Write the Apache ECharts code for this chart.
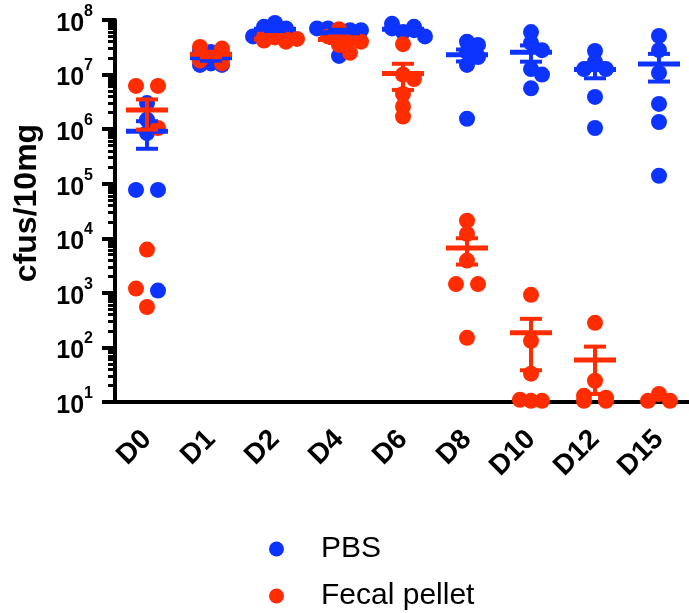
<!DOCTYPE html>
<html>
<head>
<meta charset="utf-8">
<script src="https://cdn.jsdelivr.net/npm/echarts@6/dist/echarts.min.js"></script>
<style>
  html, body { margin: 0; padding: 0; background: #fff; }
  #chart { width: 689px; height: 613px; }
</style>
</head>
<body>
<div id="chart"></div>
<script>
const categories = ["D0", "D1", "D2", "D4", "D6", "D8", "D10", "D12", "D15"];

// cfus/10mg per animal
const pbsValues = [
  [3.0e6, 1.5e6, 8.5e5, 7.7e4, 7.7e4, 1.1e3],
  [2.8e7, 2.6e7, 2.2e7, 1.6e7, 1.5e7, 1.5e7],
  [8.8e7, 7.5e7, 7.0e7, 6.5e7, 6.0e7, 5.0e7],
  [7.0e7, 7.0e7, 6.5e7, 6.5e7, 6.0e7, 2.2e7],
  [8.5e7, 7.5e7, 7.0e7, 6.5e7, 6.0e7, 5.0e7],
  [4.0e7, 3.5e7, 2.6e7, 2.1e7, 1.5e7, 1.55e6],
  [6.0e7, 3.8e7, 2.8e7, 1.26e7, 1.0e7, 5.6e6],
  [2.7e7, 1.7e7, 1.26e7, 1.26e7, 3.9e6, 1.05e6],
  [5.1e7, 2.8e7, 1.07e7, 2.9e6, 1.35e6, 1.4e5],
];
const fecalValues = [
  [6.2e6, 6.2e6, 1.05e6, 6.2e3, 1.2e3, 550],
  [3.2e7, 3.0e7, 2.5e7, 2.0e7, 1.8e7, 1.6e7],
  [5.0e7, 4.8e7, 4.5e7, 4.5e7, 4.2e7, 4.0e7],
  [6.8e7, 5.0e7, 4.5e7, 4.0e7, 3.5e7, 2.5e7],
  [3.6e7, 1.0e7, 8.3e6, 4.4e6, 2.6e6, 1.7e6],
  [2.1e4, 1.2e4, 3.9e3, 1.45e3, 1.45e3, 150],
  [920, 132, 33, 11, 10.5, 10.5],
  [282, 24.5, 13, 12, 10.5, 10.5],
  [14, 10.5, 10.5],
];
const seriesNames = ["PBS", "Fecal pellet"];
const yTickValues = [1e1, 1e2, 1e3, 1e4, 1e5, 1e6, 1e7, 1e8];

const colors = ["#0d33ff", "#ff2c00"];
const groups = [pbsValues, fecalValues];
const FONT = "'Liberation Sans', Arial, sans-serif";

// minor log ticks 2..9 in every decade
const minorTicks = [];
for (let e = 1; e < 8; e++) {
  for (let k = 2; k <= 9; k++) minorTicks.push(k * Math.pow(10, e));
}

const mean = (a) => a.reduce((s, v) => s + v, 0) / a.length;
const sem = (a) => {
  const m = mean(a);
  const sd = Math.sqrt(a.reduce((s, v) => s + (v - m) * (v - m), 0) / (a.length - 1));
  return sd / Math.sqrt(a.length);
};

// spread the dots of one day sideways, allowing some overlap like the original
const STEP = 11;
const MIN_DIST = 10;
const TRY = [0, 1, -1, 2, -2];
function layoutDay(ci, api) {
  const pts = [];
  groups.forEach((g, s) => g[ci].forEach((v) => pts.push({ s, y: api.coord([ci, v])[1] })));
  const cx = api.coord([ci, 1e4])[0];
  pts.sort((a, b) => a.y - b.y);
  const placed = [];
  let i = 0;
  while (i < pts.length) {
    let j = i + 1;
    while (j < pts.length && pts[j].y - pts[i].y < 3) j++;
    const n = j - i;
    if (n === 1) {
      const p = pts[i];
      let k = 0;
      for (const o of TRY) {
        if (placed.every((q) => Math.hypot(o * STEP - q.dx, p.y - q.y) >= MIN_DIST)) { k = o; break; }
      }
      p.dx = k * STEP;
      placed.push(p);
    } else {
      const offs = [];
      if (n % 2) {
        for (let o = -(n - 1) / 2; o <= (n - 1) / 2; o++) offs.push(o);
      } else {
        for (let o = -n / 2; o <= n / 2; o++) if (o !== 0) offs.push(o);
      }
      for (let k = 0; k < n; k++) {
        pts[i + k].dx = offs[k] * STEP;
        placed.push(pts[i + k]);
      }
    }
    i = j;
  }
  return pts.map((p) => ({ s: p.s, x: cx + p.dx, y: p.y }));
}

function dotSeries(s) {
  return {
    name: seriesNames[s],
    type: "custom",
    itemStyle: { color: colors[s] },
    data: categories.map((c, i) => [i, mean(groups[s][i])]),
    renderItem: (params, api) => {
      const ci = api.value(0);
      const children = layoutDay(ci, api)
        .filter((p) => p.s === s)
        .map((p) => ({
          type: "circle",
          shape: { cx: p.x, cy: p.y, r: 8 },
          style: { fill: colors[s] },
        }));
      return { type: "group", children };
    },
  };
}

function statSeries(s) {
  return {
    type: "custom",
    silent: true,
    data: categories.map((c, i) => [i, mean(groups[s][i])]),
    renderItem: (params, api) => {
      const ci = api.value(0);
      const vals = groups[s][ci];
      const m = mean(vals);
      // the reference shows no bar when the mean sits on the detection limit
      if (m < 20) return { type: "group", children: [] };
      const e = sem(vals);
      const x = api.coord([ci, m])[0];
      const yM = api.coord([ci, m])[1];
      const yHi = api.coord([ci, m + e])[1];
      const yLo = api.coord([ci, Math.max(m - e, 10)])[1];
      const line = (x1, y1, x2, y2, w) => ({
        type: "line",
        shape: { x1, y1, x2, y2 },
        style: { stroke: colors[s], lineWidth: w },
      });
      return {
        type: "group",
        children: [
          line(x, yLo, x, yHi, 4),
          line(x - 11, yHi, x + 11, yHi, 4),
          line(x - 11, yLo, x + 11, yLo, 4),
          line(x - 21, yM, x + 21, yM, 5),
        ],
      };
    },
  };
}

const chart = echarts.init(document.getElementById("chart"));
chart.setOption({
  animation: false,
  backgroundColor: "#fff",
  textStyle: { fontFamily: FONT },
  grid: { left: 115, right: -2, top: 20, bottom: 211, containLabel: false, outerBoundsMode: "none" },
  legend: {
    orient: "vertical",
    left: 269,
    top: 534,
    height: 90,
    padding: 0,
    icon: "circle",
    itemWidth: 15,
    itemHeight: 15,
    itemGap: 17,
    selectedMode: false,
    data: seriesNames,
    textStyle: { fontSize: 30, lineHeight: 30, color: "#000", fontFamily: FONT, padding: [0, 0, 0, 32] },
  },
  xAxis: {
    type: "category",
    data: categories,
    axisLine: { lineStyle: { color: "#000", width: 4 } },
    axisTick: { alignWithLabel: true, length: 14, lineStyle: { color: "#000", width: 4 } },
    axisLabel: {
      rotate: 45,
      margin: 33,
      fontSize: 28,
      fontWeight: "bold",
      color: "#000",
      fontFamily: FONT,
    },
  },
  yAxis: [
    {
      type: "log",
      min: 10,
      max: 1e8,
      name: "cfus/10mg",
      nameLocation: "middle",
      nameGap: 72,
      nameRotate: 90,
      nameTextStyle: { fontSize: 32, fontWeight: "bold", color: "#000", fontFamily: FONT, padding: [0, 0, 0, 16] },
      splitLine: { show: false },
      axisLine: { show: true, lineStyle: { color: "#000", width: 4 } },
      axisTick: { show: true, length: 13, customValues: yTickValues, lineStyle: { color: "#000", width: 4 } },
      axisLabel: {
        customValues: yTickValues,
        margin: 22,
        color: "#000",
        formatter: (v) => "{b|10}{s|" + Math.round(Math.log10(v)) + "}",
        rich: {
          b: { fontSize: 25, fontWeight: "bold", color: "#000", fontFamily: FONT, padding: [8, 0, 0, 0] },
          s: { fontSize: 16, fontWeight: "bold", color: "#000", fontFamily: FONT, verticalAlign: "top" },
        },
      },
    },
    {
      type: "log",
      min: 10,
      max: 1e8,
      position: "left",
      offset: 0,
      splitLine: { show: false },
      axisLine: { show: false },
      axisLabel: { show: false },
      axisTick: { show: true, length: 7, customValues: minorTicks, lineStyle: { color: "#000", width: 3 } },
    },
  ],
  series: [dotSeries(0), dotSeries(1), statSeries(0), statSeries(1)],
});
</script>
</body>
</html>
